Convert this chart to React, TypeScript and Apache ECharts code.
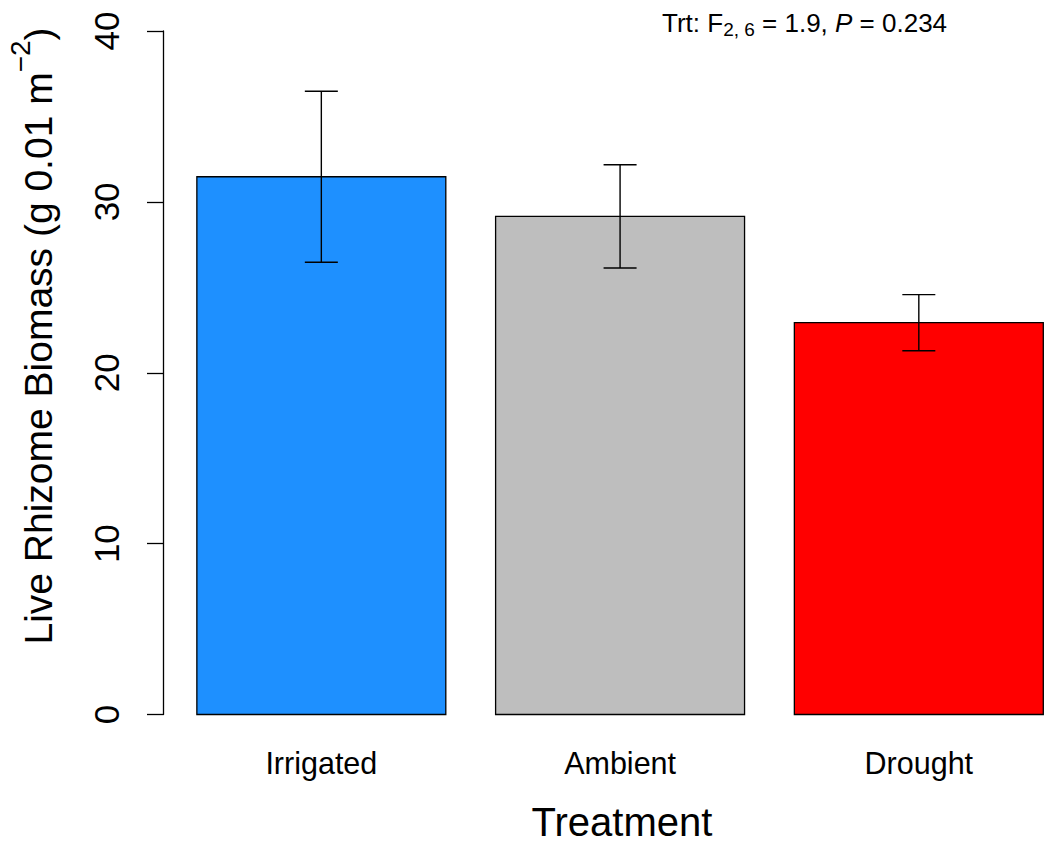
import React, { useEffect, useRef } from "react";
import * as echarts from "echarts";

// Live rhizome biomass by rainfall treatment (mean ± SE)
const treatments = ["Irrigated", "Ambient", "Drought"];
const biomassMean = [31.47, 29.15, 22.93];
const biomassSE = [5.0, 3.02, 1.64];
const barColors = ["#1E90FF", "#BEBEBE", "#FF0000"];
const yTicks = [0, 10, 20, 30, 40];

const FONT = "'Liberation Sans', Arial, Helvetica, sans-serif";

// barplot-style layout: bars of width 1 separated by a 0.2 gap
const BAR_W = 1;
const BAR_GAP = 0.2;
const barCenter = (i: number) => BAR_GAP + BAR_W / 2 + i * (BAR_W + BAR_GAP);

export default function App() {
  const ref = useRef<HTMLDivElement>(null);

  useEffect(() => {
    if (!ref.current) return;
    const chart = echarts.init(ref.current, null, { renderer: "svg" });

    const data = treatments.map((name, i) => [barCenter(i), biomassMean[i], biomassSE[i], i]);

    chart.setOption({
      animation: false,
      backgroundColor: "#ffffff",
      grid: { left: 163, right: 2.7, top: 31, bottom: 131.5, containLabel: false },
      xAxis: {
        type: "value",
        min: 0.064,
        max: 3.6,
        show: false,
      },
      yAxis: {
        type: "value",
        min: yTicks[0],
        max: yTicks[yTicks.length - 1],
        interval: 10,
        axisLine: { show: true, lineStyle: { color: "#000", width: 1.3 } },
        axisTick: { show: true, length: 16, lineStyle: { color: "#000", width: 1.3 } },
        splitLine: { show: false },
        axisLabel: {
          rotate: 90,
          fontSize: 35,
          color: "#000",
          fontFamily: FONT,
          margin: 39,
        },
      },
      series: [
        {
          type: "custom",
          clip: false,
          encode: { x: 0, y: 1 },
          data,
          renderItem: (params: any, api: any) => {
            const x = api.value(0);
            const mean = api.value(1);
            const se = api.value(2);
            const idx = api.value(3);
            const tl = api.coord([x - BAR_W / 2, mean]);
            const br = api.coord([x + BAR_W / 2, 0]);
            const hi = api.coord([x, mean + se]);
            const lo = api.coord([x, mean - se]);
            const cap = 16.5;
            const errStyle = { stroke: "#000", lineWidth: 1.4 };
            return {
              type: "group",
              children: [
                {
                  type: "rect",
                  shape: { x: tl[0], y: tl[1], width: br[0] - tl[0], height: br[1] - tl[1] },
                  style: { fill: barColors[idx], stroke: "#000", lineWidth: 1.3 },
                },
                {
                  type: "line",
                  shape: { x1: hi[0], y1: hi[1], x2: lo[0], y2: lo[1] },
                  style: errStyle,
                },
                {
                  type: "line",
                  shape: { x1: hi[0] - cap, y1: hi[1], x2: hi[0] + cap, y2: hi[1] },
                  style: errStyle,
                },
                {
                  type: "line",
                  shape: { x1: lo[0] - cap, y1: lo[1], x2: lo[0] + cap, y2: lo[1] },
                  style: errStyle,
                },
                {
                  type: "text",
                  x: br[0] - (br[0] - tl[0]) / 2,
                  y: br[1] + 48,
                  style: {
                    text: treatments[idx],
                    fontSize: 30.5,
                    fontFamily: FONT,
                    fill: "#000",
                    align: "center",
                    verticalAlign: "middle",
                  },
                },
              ],
            };
          },
        },
      ],
      graphic: [
        {
          type: "text",
          x: 622,
          y: 822,
          style: {
            text: "Treatment",
            fontSize: 40,
            fontFamily: FONT,
            fill: "#000",
            align: "center",
            verticalAlign: "middle",
          },
        },
        {
          type: "text",
          x: 32,
          y: 336,
          rotation: Math.PI / 2,
          style: {
            text: "{m|Live Rhizome Biomass (g 0.01 m}{s|−2}{m|)}",
            fontFamily: FONT,
            fill: "#000",
            align: "center",
            verticalAlign: "middle",
            rich: {
              m: { fontSize: 39, lineHeight: 52, verticalAlign: "bottom", fontFamily: FONT, fill: "#000" },
              s: { fontSize: 28, lineHeight: 28, verticalAlign: "top", fontFamily: FONT, fill: "#000" },
            },
          },
        },
        {
          type: "text",
          x: 662,
          y: 7,
          style: {
            text: "{a|Trt: F}{b|2, 6}{a| = 1.9, }{p|P}{a| = 0.234}",
            fontFamily: FONT,
            fill: "#000",
            align: "left",
            verticalAlign: "top",
            rich: {
              a: { fontSize: 26, lineHeight: 32, fontFamily: FONT, fill: "#000" },
              b: { fontSize: 19, lineHeight: 19, verticalAlign: "bottom", fontFamily: FONT, fill: "#000" },
              p: { fontSize: 26, lineHeight: 32, fontStyle: "italic", fontFamily: FONT, fill: "#000" },
            },
          },
        },
      ],
    });

    return () => chart.dispose();
  }, []);

  return (
    <div
      ref={ref}
      style={{ position: "fixed", left: 0, top: 0, width: 1046, height: 846, background: "#fff" }}
    />
  );
}
